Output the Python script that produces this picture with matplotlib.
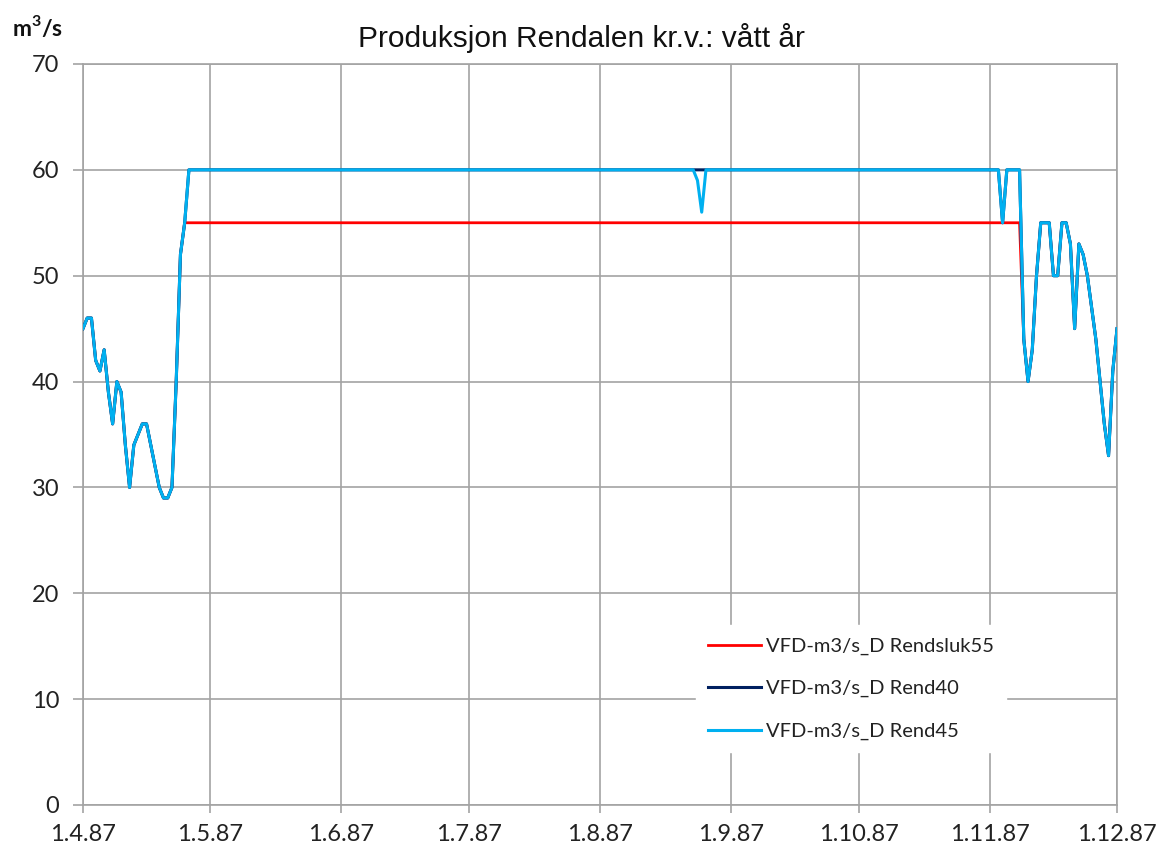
import matplotlib
matplotlib.use("Agg")
import matplotlib.pyplot as plt
import pandas as pd

# ---- data (daily values, 1 Apr 1987 .. 1 Dec 1987) ----
start_date = "1987-04-01"
end_date = "1987-12-01"

# spring values (days 0-24 from 1 Apr)
spring_45 = [45, 46, 46, 42, 41, 43, 39, 36, 40, 39, 34, 30, 34, 35, 36, 36,
             34, 32, 30, 29, 29, 30, 40, 52, 55]
plateau_40_45 = 60
plateau_sluk55 = 55
sept_dip_45 = [59, 56]          # 2-3 Sep (Rend45 only)
sept_dip_40 = [60, 60]          # Rend40 stays at cap
nov_dip = [55]                  # 4 Nov
# late-autumn values (days 222-244)
autumn = [44, 40, 43, 50, 55, 55, 55, 50, 50, 55, 55, 53, 45, 53, 52, 50,
          47, 44, 40, 36, 33, 41, 45]

rend45 = (spring_45 + [plateau_40_45] * 120 + sept_dip_45 + [plateau_40_45] * 70
          + nov_dip + [plateau_40_45] * 4 + autumn)
rend40 = (spring_45 + [plateau_40_45] * 120 + sept_dip_40 + [plateau_40_45] * 70
          + nov_dip + [plateau_40_45] * 4 + autumn)
rendsluk55 = spring_45[:24] + [plateau_sluk55] * 198 + autumn

dates = pd.date_range(start_date, end_date, freq="D")

tick_dates = pd.date_range(start_date, end_date, freq="MS")
tick_labels = ["1.4.87", "1.5.87", "1.6.87", "1.7.87", "1.8.87",
               "1.9.87", "1.10.87", "1.11.87", "1.12.87"]
y_ticks = [0, 10, 20, 30, 40, 50, 60, 70]

series_names = ["VFD-m3/s_D Rendsluk55", "VFD-m3/s_D Rend40", "VFD-m3/s_D Rend45"]

# ---- figure ----
plt.rcParams['font.family'] = ['Lato', 'DejaVu Sans']
fig = plt.figure(figsize=(11.62, 8.52), dpi=100)
ax = fig.add_axes([0.0714, 0.0552, 0.8899, 0.8697])

grid_c = "#a3a3a3"
ax.plot(dates, rendsluk55, color="#ff0000", lw=2.0, label=series_names[0], zorder=3)
ax.plot(dates, rend40, color="#002060", lw=2.2, label=series_names[1], zorder=4)
ax.plot(dates, rend45, color="#00b0f0", lw=2.2, label=series_names[2], zorder=5)

ax.set_xlim(dates[0], dates[-1])
ax.set_ylim(0, 70)
ax.set_xticks(tick_dates)
ax.set_xticklabels(tick_labels)
ax.set_yticks(y_ticks)

ax.grid(True, color=grid_c, lw=1.2)
ax.set_axisbelow(True)
for s in ax.spines.values():
    s.set_color(grid_c)
    s.set_linewidth(1.2)
ax.tick_params(axis='y', direction='out', length=7, width=1.2, color=grid_c,
               labelsize=17, pad=10, labelcolor="#222222")
ax.tick_params(axis='x', direction='out', length=6, width=1.2, color=grid_c,
               labelsize=17, pad=8, labelcolor="#222222")

fig.text(0.5, 0.955, "Produksjon Rendalen kr.v.: vått år", ha="center", va="center",
         fontsize=21.5, family=["Liberation Sans", "DejaVu Sans"], color="#111111")
fig.text(0.010, 0.968, "m$^\\mathregular{3}$/s", ha="left", va="center",
         fontsize=16.5, fontweight="bold", color="#111111")

leg = ax.legend(loc="lower left", bbox_to_anchor=(0.593, 0.0715), frameon=True,
                fontsize=14.5, handlelength=2.6, labelspacing=1.25, borderpad=0.6,
                handletextpad=0.25, borderaxespad=0)
leg.get_frame().set_edgecolor("white")
leg.get_frame().set_facecolor("white")
leg.get_frame().set_alpha(1.0)
leg.get_frame().set_boxstyle("square", pad=0)
for t in leg.get_texts():
    t.set_color("#222222")

fig.savefig("out.png", dpi=100)
